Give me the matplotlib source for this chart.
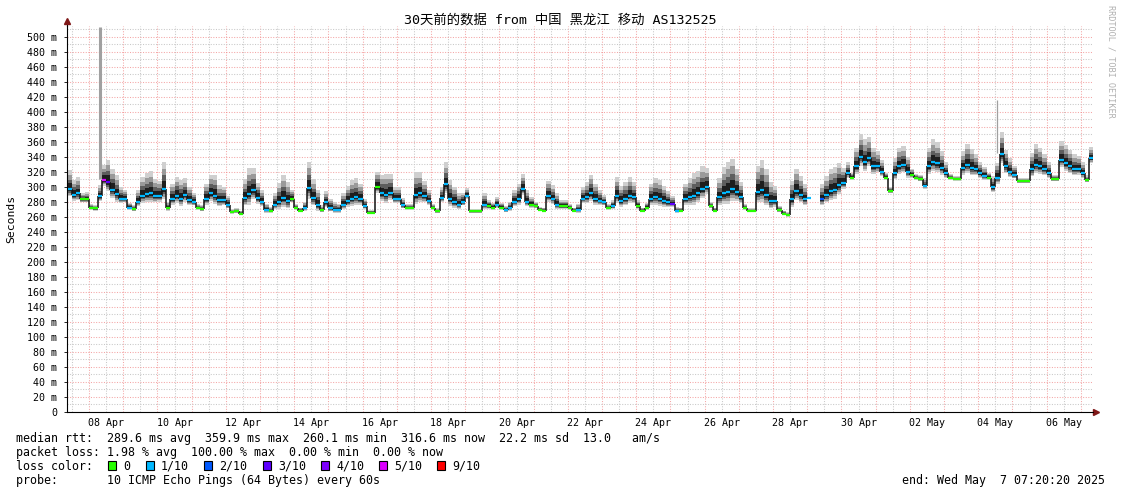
import matplotlib
matplotlib.use('Agg')
import matplotlib.pyplot as plt
import matplotlib.dates as mdates
from matplotlib.patches import Rectangle
import numpy as np
import pandas as pd

W, H = 1121, 494
MONO = 'DejaVu Sans Mono'
plt.rcParams['font.family'] = [MONO, 'Noto Sans CJK SC']

# samples every 3 hours, first one at 2025-04-07 09:00
START = '2025-04-07 09:00'
STEP = '3h'

# median rtt (ms)
median_ms = [
    297, 289, 291, 283, 283,                      # Apr 7
    272, 271, 287, 309, 306, 296, 290, 284,       # Apr 8
    284, 272, 270, 280, 288, 290, 291, 288,       # Apr 9
    288, 297, 272, 284, 288, 284, 289, 282,       # Apr 10
    280, 272, 270, 284, 291, 288, 282, 282,       # Apr 11
    276, 266, 267, 264, 285, 290, 295, 285,       # Apr 12
    280, 269, 268, 276, 280, 285, 281, 284,       # Apr 13
    272, 268, 272, 298, 285, 276, 269, 279,       # Apr 14
    272, 269, 269, 276, 281, 284, 286, 284,       # Apr 15
    274, 265, 265, 300, 291, 289, 292, 284,       # Apr 16
    284, 275, 272, 272, 289, 291, 287, 281,       # Apr 17
    272, 267, 285, 303, 284, 280, 276, 280,       # Apr 18
    288, 267, 267, 267, 276, 274, 272, 276,       # Apr 19
    272, 269, 272, 280, 284, 297, 280, 276,       # Apr 20
    274, 269, 268, 288, 284, 276, 274, 274,       # Apr 21
    272, 268, 269, 284, 286, 291, 284, 281,       # Apr 22
    279, 272, 274, 288, 281, 284, 288, 286,       # Apr 23
    274, 268, 272, 284, 286, 284, 281, 279,       # Apr 24
    277, 268, 268, 284, 286, 288, 291, 297,       # Apr 25
    300, 274, 268, 286, 291, 293, 297, 293,       # Apr 26
    286, 272, 268, 268, 293, 295, 289, 281,       # Apr 27
    281, 269, 264, 262, 283, 294, 289, 283,       # Apr 28
    285, np.nan, np.nan, 283, 289, 294, 296, 302, # Apr 29
    305, 318, 312, 327, 340, 333, 338, 327,       # Apr 30
    327, 320, 312, 294, 318, 327, 329, 320,       # May 1
    316, 312, 310, 301, 327, 333, 331, 325,       # May 2
    318, 312, 310, 310, 325, 329, 325, 323,       # May 3
    318, 314, 312, 299, 312, 343, 327, 320,       # May 4
    316, 307, 307, 307, 323, 329, 327, 323,       # May 5
    318, 310, 310, 336, 331, 327, 323, 323,       # May 6
    318, 309, 338,                                # May 7
]

# packet loss (x/10) for each sample
loss_tenths = [
    1, 1, 1, 0, 0,
    0, 0, 1, 5, 3, 1, 1, 1,
    1, 1, 0, 1, 1, 1, 1, 1,
    1, 1, 0, 1, 1, 1, 1, 1,
    1, 0, 0, 1, 1, 1, 1, 1,
    1, 0, 0, 0, 1, 1, 1, 1,
    1, 1, 0, 1, 1, 1, 1, 0,
    0, 0, 1, 1, 1, 1, 0, 1,
    1, 1, 1, 1, 1, 1, 1, 1,
    1, 0, 0, 0, 1, 1, 1, 1,
    1, 1, 0, 0, 1, 1, 1, 1,
    0, 0, 1, 1, 1, 1, 1, 1,
    1, 0, 0, 0, 1, 0, 0, 1,
    0, 1, 1, 1, 1, 1, 1, 0,
    0, 0, 0, 1, 1, 1, 0, 0,
    0, 0, 1, 1, 1, 1, 1, 1,
    1, 0, 1, 1, 1, 1, 1, 1,
    0, 0, 0, 1, 1, 1, 1, 1,
    3, 1, 0, 1, 1, 1, 1, 1,
    1, 0, 0, 1, 1, 1, 1, 1,
    1, 0, 0, 0, 1, 1, 1, 1,
    1, 0, 0, 0, 1, 1, 1, 1,
    1, 0, 0, 2, 1, 1, 1, 1,
    1, 1, 0, 1, 1, 1, 1, 1,
    1, 1, 0, 0, 1, 1, 1, 1,
    0, 0, 0, 1, 1, 1, 1, 1,
    1, 0, 0, 0, 1, 1, 1, 1,
    1, 1, 0, 1, 1, 1, 1, 1,
    1, 0, 0, 0, 1, 1, 1, 1,
    1, 0, 0, 1, 1, 1, 1, 1,
    1, 0, 1,
]

# smoke: spread of the slowest ping above the median (ms)
smoke_up = [
    25, 20, 22, 8, 10,
    5, 5, 15, 20, 30, 28, 25, 15,
    12, 6, 5, 15, 25, 28, 30, 22,
    20, 36, 8, 20, 25, 25, 22, 18,
    12, 5, 5, 20, 25, 28, 20, 18,
    12, 4, 4, 4, 25, 35, 30, 20,
    15, 8, 5, 15, 25, 30, 25, 12,
    5, 4, 8, 35, 25, 20, 6, 15,
    12, 10, 8, 15, 20, 25, 25, 20,
    10, 4, 4, 20, 25, 28, 25, 15,
    15, 10, 5, 5, 30, 28, 20, 15,
    5, 4, 15, 30, 25, 20, 15, 12,
    10, 3, 3, 3, 15, 8, 6, 10,
    6, 5, 8, 15, 20, 20, 15, 10,
    6, 4, 4, 20, 18, 15, 8, 8,
    5, 4, 8, 15, 20, 25, 20, 15,
    10, 5, 8, 25, 20, 22, 25, 20,
    8, 4, 6, 20, 25, 25, 20, 15,
    10, 5, 4, 20, 25, 30, 30, 30,
    25, 6, 4, 25, 35, 40, 40, 30,
    20, 5, 3, 3, 35, 40, 35, 25,
    20, 5, 4, 4, 25, 30, 25, 20,
    25, 0, 0, 20, 25, 30, 30, 30,
    20, 15, 6, 25, 30, 30, 28, 25,
    20, 15, 6, 6, 20, 25, 25, 20,
    8, 5, 5, 10, 25, 30, 28, 22,
    15, 5, 4, 4, 22, 28, 25, 20,
    15, 12, 6, 15, 20, 30, 22, 18,
    12, 4, 4, 4, 22, 28, 25, 20,
    15, 6, 6, 25, 25, 22, 20, 18,
    15, 6, 15,
]

# smoke: spread of the fastest ping below the median (ms)
smoke_dn = [
    10, 8, 9, 4, 4,
    3, 3, 6, 8, 12, 11, 10, 6,
    5, 3, 3, 6, 10, 11, 12, 9,
    8, 14, 4, 8, 10, 10, 9, 7,
    5, 3, 3, 8, 10, 11, 8, 7,
    5, 2, 2, 2, 10, 14, 12, 8,
    6, 4, 3, 6, 10, 12, 10, 5,
    3, 2, 4, 14, 10, 8, 3, 6,
    5, 4, 4, 6, 8, 10, 10, 8,
    4, 2, 2, 8, 10, 11, 10, 6,
    6, 4, 3, 3, 12, 11, 8, 6,
    3, 2, 6, 12, 10, 8, 6, 5,
    4, 2, 2, 2, 6, 4, 3, 4,
    3, 3, 4, 6, 8, 8, 6, 4,
    3, 2, 2, 8, 7, 6, 4, 4,
    3, 2, 4, 6, 8, 10, 8, 6,
    4, 3, 4, 10, 8, 9, 10, 8,
    4, 2, 3, 8, 10, 10, 8, 6,
    4, 3, 2, 8, 10, 12, 12, 12,
    10, 3, 2, 10, 14, 16, 16, 12,
    8, 3, 2, 2, 14, 16, 14, 10,
    8, 3, 2, 2, 10, 12, 10, 8,
    10, 0, 0, 8, 10, 12, 12, 12,
    8, 6, 3, 10, 12, 12, 11, 10,
    8, 6, 3, 3, 8, 10, 10, 8,
    4, 3, 3, 4, 10, 12, 11, 9,
    6, 3, 2, 2, 9, 11, 10, 8,
    6, 5, 3, 6, 8, 12, 9, 7,
    5, 2, 2, 2, 9, 11, 10, 8,
    6, 3, 3, 10, 10, 9, 8, 7,
    6, 3, 6,
]

# single slow pings sticking out of the smoke
outlier_time = ['2025-04-08 07:40', '2025-05-04 13:20']
outlier_low = [310, 345]
outlier_high = [530, 416]

loss_colors = {0: '#26ff00', 1: '#00b8ff', 2: '#0059ff', 3: '#5e00ff',
               4: '#7e00ff', 5: '#dd00ff', 9: '#ff0000'}
loss_labels = ['0', '1/10', '2/10', '3/10', '4/10', '5/10', '9/10']
loss_keys = [0, 1, 2, 3, 4, 5, 9]

title = '30天前的数据 from 中国 黑龙江 移动 AS132525'
stats_rtt = ('median rtt:  289.6 ms avg  359.9 ms max  260.1 ms min  '
             '316.6 ms now  22.2 ms sd  13.0   am/s')
stats_loss = 'packet loss: 1.98 % avg  100.00 % max  0.00 % min  0.00 % now'
probe_txt = 'probe:       10 ICMP Echo Pings (64 Bytes) every 60s'
end_txt = 'end: Wed May  7 07:20:20 2025'


def fx(px):
    return px / W


def fy(py):
    return 1 - py / H


fig = plt.figure(figsize=(W / 100, H / 100), dpi=100)
ax = fig.add_axes([fx(67), fy(412), (1093 - 67) / W, (412 - 26) / H])

med = np.array(median_ms, dtype=float)
up = np.array(smoke_up, dtype=float)
dn = np.array(smoke_dn, dtype=float)
edges = pd.date_range(START, periods=len(med) + 1, freq=STEP)
ex = mdates.date2num(edges.to_pydatetime())

x0 = mdates.date2num(pd.Timestamp('2025-04-07 08:33').to_pydatetime())
x1 = x0 + 30
ymax = 514

# grid
for d in pd.date_range('2025-04-08', '2025-05-07', freq='D'):
    ax.axvline(mdates.date2num(d.to_pydatetime()), color='#f08080', alpha=0.7,
               lw=0.75, ls=(0, (1, 1.5)), zorder=0)
for d in pd.date_range('2025-04-07 12:00', '2025-05-06 12:00', freq='D'):
    ax.axvline(mdates.date2num(d.to_pydatetime()), color='#c8c8c8',
               lw=0.75, ls=(0, (1, 1.5)), zorder=0)
for v in range(10, ymax, 10):
    c = '#f08080' if v % 20 == 0 else '#c8c8c8'
    ax.axhline(v, color=c, alpha=0.7 if v % 20 == 0 else 1, lw=0.75,
               ls=(0, (1, 1.5)), zorder=0)

# smoke layers, light to dark
med_s = np.append(med, med[-1])
up_s = np.append(up, up[-1])
dn_s = np.append(dn, dn[-1])
for frac, col in zip([1.0, 0.75, 0.5, 0.3],
                     ['#cfcfcf', '#9a9a9a', '#5e5e5e', '#1e1e1e']):
    ax.fill_between(ex, med_s - dn_s * frac, med_s + up_s * frac,
                    step='post', color=col, lw=0, zorder=2)

for t, lo, hi in zip(outlier_time, outlier_low, outlier_high):
    xt = mdates.date2num(pd.Timestamp(t).to_pydatetime())
    ax.vlines(xt, lo, min(hi, ymax - 1), color='#a0a0a0',
              lw=2.2 if hi > 500 else 0.9, zorder=2)

# median line coloured by loss
ax.vlines(ex[1:-1], med[:-1], med[1:], colors='#111111', lw=1.1, zorder=4)
ax.hlines(med, ex[:-1], ex[1:], colors=[loss_colors[l] for l in loss_tenths],
          lw=1.6, zorder=5)

ax.set_xlim(x0, x1)
ax.set_ylim(0, ymax)
for s in ['top', 'right']:
    ax.spines[s].set_visible(False)
for s in ['left', 'bottom']:
    ax.spines[s].set_color('#000000')
    ax.spines[s].set_linewidth(0.8)

# axis arrows
ax.plot([0, 0], [1, 1.012], transform=ax.transAxes, color='black', lw=0.8,
        clip_on=False)
ax.plot([1, 1.003], [0, 0], transform=ax.transAxes, color='black', lw=0.8,
        clip_on=False)
ax.plot([0], [1.012], transform=ax.transAxes, marker='^', ms=4,
        color='#7f1818', clip_on=False)
ax.plot([1.003], [0], transform=ax.transAxes, marker='>', ms=4,
        color='#7f1818', clip_on=False)

yt = list(range(0, 501, 20))
ax.set_yticks(yt, ['0' if v == 0 else f'{v} m' for v in yt])
xt = pd.date_range('2025-04-08 12:00', '2025-05-06 12:00', freq='2D')
ax.set_xticks(mdates.date2num(xt.to_pydatetime()),
              [d.strftime('%d %b') for d in xt])
ax.tick_params(axis='y', labelsize=7.2, length=2, pad=5, width=0.6)
ax.tick_params(axis='x', labelsize=7.2, length=0, pad=4)

fig.text(0.5, fy(20), title, ha='center', va='center', fontsize=9.6,
         family=[MONO, 'Noto Sans CJK SC'])
fig.text(fx(11), fy(219), 'Seconds', rotation=90, ha='center', va='center',
         fontsize=8.2)
fig.text(fx(1111), fy(5), 'RRDTOOL / TOBI OETIKER', rotation=270,
         ha='center', va='top', fontsize=6.1, color='#b0b0b0')

fs = 8.4
fig.text(fx(16), fy(438), stats_rtt, ha='left', va='center', fontsize=fs)
fig.text(fx(16), fy(452), stats_loss, ha='left', va='center', fontsize=fs)
fig.text(fx(16), fy(466), 'loss color:', ha='left', va='center', fontsize=fs)
fig.text(fx(16), fy(480), probe_txt, ha='left', va='center', fontsize=fs)
fig.text(fx(1105), fy(480), end_txt, ha='right', va='center', fontsize=fs)

box_x = [108, 146, 204, 263, 321, 379, 437]
for bx, key, lab in zip(box_x, loss_keys, loss_labels):
    fig.add_artist(Rectangle((fx(bx), fy(470)), 8 / W, 9 / H,
                             transform=fig.transFigure,
                             facecolor=loss_colors[key], edgecolor='black',
                             lw=0.8))
    fig.text(fx(bx + 15), fy(466), lab, ha='left', va='center', fontsize=fs)

fig.savefig('out.png', dpi=100)
